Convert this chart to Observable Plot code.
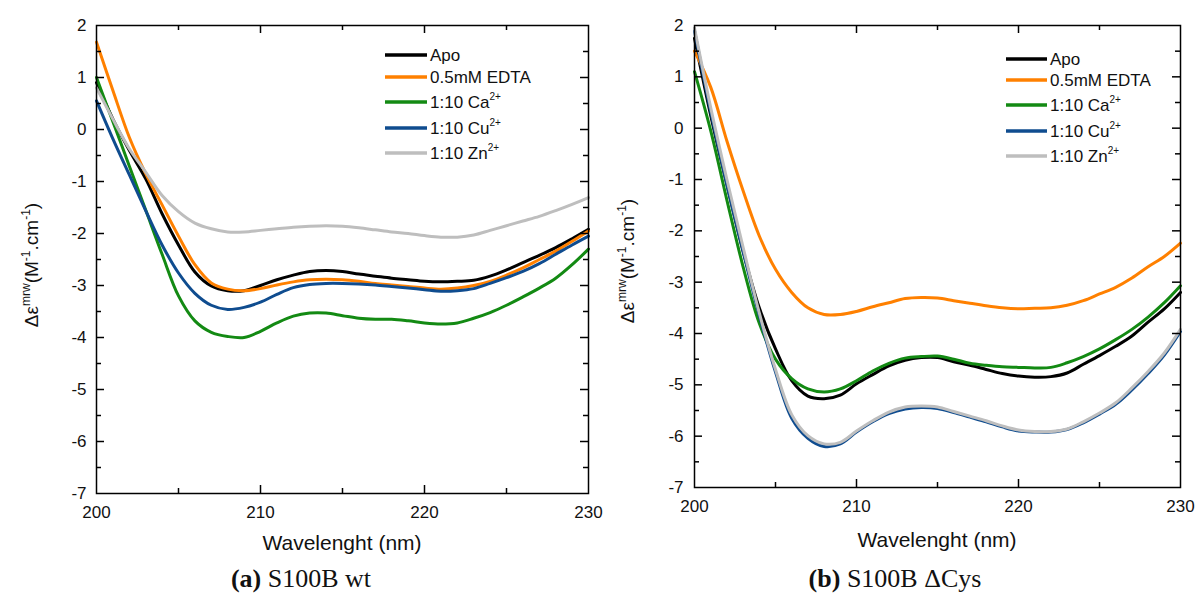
<!DOCTYPE html>
<html><head><meta charset="utf-8">
<script src="https://cdn.jsdelivr.net/npm/d3@7"></script>
<script src="https://cdn.jsdelivr.net/npm/@observablehq/plot@0.6"></script>
<style>
body{margin:0;background:#fff;}
#wrap{position:relative;width:1196px;height:595px;overflow:hidden;background:#fff;}
.panel{position:absolute;top:0;width:598px;height:560px;}
.cap{position:absolute;top:566px;font-family:"Liberation Serif","DejaVu Serif",serif;font-size:26px;line-height:26px;white-space:nowrap;transform:translateX(-50%);color:#111;}
</style></head><body>
<div id="wrap">
<div class="panel" id="pa" style="left:0"></div>
<div class="panel" id="pb" style="left:598px"></div>
<div class="cap" style="left:301px"><b>(a)</b> S100B wt</div>
<div class="cap" style="left:895px"><b>(b)</b> S100B ΔCys</div>
</div>
<script>
// ---- data ----
const wavelength = [200,201,202,203,204,205,206,207,208,209,210,211,212,213,214,215,216,217,218,219,220,221,222,223,224,225,226,227,228,229,230];
const seriesNames = ["Apo","0.5mM EDTA","1:10 Ca2+","1:10 Cu2+","1:10 Zn2+"];
const legendBase = ["Apo","0.5mM EDTA","1:10 Ca","1:10 Cu","1:10 Zn"];
const legendSup = ["","","2+","2+","2+"];
const colors = ["#000000","#FF8000","#138A13","#0F4C8F","#BEBEBE"];

// (a) S100B wt
const wtApo  = [0.9,0.2,-0.4,-0.95,-1.62,-2.22,-2.74,-3.01,-3.1,-3.1,-3.0,-2.89,-2.8,-2.73,-2.71,-2.73,-2.78,-2.82,-2.86,-2.89,-2.92,-2.93,-2.92,-2.9,-2.82,-2.7,-2.56,-2.42,-2.27,-2.1,-1.92];
const wtEDTA = [1.68,0.75,-0.15,-0.85,-1.45,-2.05,-2.6,-2.95,-3.07,-3.1,-3.06,-2.99,-2.93,-2.89,-2.88,-2.89,-2.92,-2.96,-2.99,-3.02,-3.05,-3.07,-3.05,-3.0,-2.92,-2.8,-2.66,-2.5,-2.34,-2.15,-1.95];
const wtCa   = [1.0,0.15,-0.7,-1.55,-2.4,-3.2,-3.68,-3.9,-3.98,-4.0,-3.88,-3.72,-3.59,-3.53,-3.53,-3.58,-3.63,-3.65,-3.65,-3.68,-3.72,-3.74,-3.72,-3.63,-3.52,-3.38,-3.22,-3.05,-2.86,-2.6,-2.3];
const wtCu   = [0.55,-0.18,-0.87,-1.56,-2.22,-2.76,-3.15,-3.38,-3.46,-3.42,-3.32,-3.17,-3.04,-2.98,-2.96,-2.96,-2.97,-2.99,-3.02,-3.05,-3.08,-3.11,-3.1,-3.06,-2.96,-2.85,-2.73,-2.58,-2.4,-2.22,-2.05];
const wtZn   = [0.8,0.2,-0.37,-0.82,-1.27,-1.58,-1.8,-1.91,-1.97,-1.97,-1.94,-1.91,-1.88,-1.86,-1.85,-1.86,-1.89,-1.93,-1.97,-2.0,-2.04,-2.07,-2.07,-2.03,-1.94,-1.85,-1.76,-1.67,-1.56,-1.44,-1.31];

// (b) S100B ΔCys
const dcApo  = [1.75,0.25,-1.1,-2.4,-3.5,-4.3,-4.92,-5.22,-5.27,-5.2,-4.98,-4.8,-4.63,-4.52,-4.47,-4.47,-4.55,-4.62,-4.7,-4.78,-4.83,-4.85,-4.84,-4.77,-4.6,-4.43,-4.25,-4.05,-3.78,-3.52,-3.2];
const dcEDTA = [1.5,0.8,-0.25,-1.22,-2.1,-2.75,-3.2,-3.5,-3.63,-3.63,-3.57,-3.48,-3.4,-3.32,-3.3,-3.31,-3.36,-3.41,-3.46,-3.5,-3.52,-3.51,-3.5,-3.45,-3.36,-3.23,-3.1,-2.92,-2.7,-2.5,-2.24];
const dcCa   = [1.1,-0.05,-1.4,-2.7,-3.8,-4.5,-4.88,-5.08,-5.14,-5.08,-4.92,-4.73,-4.58,-4.48,-4.45,-4.44,-4.5,-4.58,-4.62,-4.65,-4.66,-4.67,-4.66,-4.57,-4.45,-4.3,-4.12,-3.92,-3.68,-3.4,-3.07];
const dcCu   = [1.9,0.32,-1.1,-2.4,-3.65,-4.75,-5.65,-6.04,-6.2,-6.15,-5.92,-5.72,-5.56,-5.47,-5.44,-5.46,-5.54,-5.63,-5.72,-5.82,-5.9,-5.92,-5.92,-5.87,-5.74,-5.57,-5.38,-5.1,-4.78,-4.42,-3.96];
const dcZn   = [1.95,0.4,-1.0,-2.32,-3.6,-4.7,-5.58,-5.99,-6.15,-6.12,-5.9,-5.7,-5.53,-5.43,-5.41,-5.43,-5.52,-5.61,-5.7,-5.8,-5.88,-5.91,-5.91,-5.86,-5.72,-5.55,-5.35,-5.06,-4.74,-4.38,-3.92];

const xTickLabels = [200,210,220,230];
const yTickLabels = [-7,-6,-5,-4,-3,-2,-1,0,1,2];
const xMajor = [210,220];
const xMinor = [205,215,225];
const yMajor = [-6,-5,-4,-3,-2,-1,0,1];
const yMinor = [-6.5,-5.5,-4.5,-3.5,-2.5,-1.5,-0.5,0.5,1.5];

const xLabel = "Wavelenght (nm)";

function makePanel(el, arrays, m, leg, yl) {
  const W = 598, H = 560;
  const plotW = W - m.left - m.right, plotH = H - m.top - m.bottom;
  const rows = seriesNames.flatMap((s, i) => wavelength.map((w, j) => ({w, v: arrays[i][j], s})));
  const tk = {stroke: "black", strokeWidth: 1.5};
  const font = '"Liberation Sans", Arial, sans-serif';
  const svg = Plot.plot({
    width: W, height: H,
    marginLeft: m.left, marginRight: m.right, marginTop: m.top, marginBottom: m.bottom,
    style: {fontFamily: font, fontSize: "17px", color: "#111", background: "transparent", overflow: "visible"},
    x: {domain: [200, 230]},
    y: {domain: [-7, 2]},
    color: {domain: seriesNames, range: colors},
    marks: [
      Plot.axisX({ticks: xTickLabels, tickSize: 0, tickPadding: 12, fontSize: 17, tickFormat: d => String(d), label: null}),
      Plot.axisY({ticks: yTickLabels, tickSize: 0, tickPadding: m.ypad, fontSize: 17, tickFormat: d => String(d), label: null}),
      Plot.line(rows, {x: "w", y: "v", z: "s", stroke: "s", strokeWidth: 3, curve: "catmull-rom"}),
      Plot.ruleX(xMajor, {x: d => d, insetTop: plotH - 8, ...tk}),
      Plot.ruleX(xMajor, {x: d => d, insetBottom: plotH - 8, ...tk}),
      Plot.ruleX(xMinor, {x: d => d, insetTop: plotH - 5, ...tk}),
      Plot.ruleX(xMinor, {x: d => d, insetBottom: plotH - 5, ...tk}),
      Plot.ruleY(yMajor, {y: d => d, insetRight: plotW - 8, ...tk}),
      Plot.ruleY(yMajor, {y: d => d, insetLeft: plotW - 8, ...tk}),
      Plot.ruleY(yMinor, {y: d => d, insetRight: plotW - 5, ...tk}),
      Plot.ruleY(yMinor, {y: d => d, insetLeft: plotW - 5, ...tk}),
      Plot.frame({stroke: "black", strokeWidth: 1.5})
    ]
  });
  const s = d3.select(svg);
  // x label
  s.append("text").attr("x", m.left + plotW / 2).attr("y", m.xly)
    .attr("text-anchor", "middle").attr("font-family", font).attr("font-size", 21).attr("fill", "#111").text(xLabel);
  // y label
  const t = s.append("text").attr("transform", `translate(${yl.x},${yl.y}) rotate(-90)`)
    .attr("text-anchor", "middle").attr("font-family", font).attr("font-size", 19).attr("fill", "#111");
  t.append("tspan").text("Δε");
  t.append("tspan").attr("dy", -8).attr("font-size", 12).text("mrw");
  t.append("tspan").attr("dy", 8).text("(M");
  t.append("tspan").attr("dy", -8).attr("font-size", 12).text("-1");
  t.append("tspan").attr("dy", 8).text(".cm");
  t.append("tspan").attr("dy", -8).attr("font-size", 12).text("-1");
  t.append("tspan").attr("dy", 8).text(")");
  // legend
  const g = s.append("g").attr("text-anchor", "start");
  seriesNames.forEach((name, i) => {
    const y = leg.ys[i];
    g.append("line").attr("x1", leg.x1).attr("x2", leg.x2).attr("y1", y).attr("y2", y)
      .attr("stroke", colors[i]).attr("stroke-width", 3.5);
    const tx = g.append("text").attr("x", leg.x2 + 3).attr("y", y + 6).attr("text-anchor", "start")
      .attr("font-family", font).attr("font-size", 17).attr("fill", "#111");
    tx.append("tspan").text(legendBase[i]);
    if (legendSup[i]) tx.append("tspan").attr("dy", -8).attr("font-size", 10).text(legendSup[i]);
  });
  document.getElementById(el).appendChild(svg);
}

makePanel("pa", [wtApo, wtEDTA, wtCa, wtCu, wtZn],
  {left: 96, right: 10, top: 25, bottom: 67, ypad: 10, xly: 550},
  {x1: 385, x2: 427, ys: [55, 77, 102, 128, 153]},
  {x: 38, y: 265});
makePanel("pb", [dcApo, dcEDTA, dcCa, dcCu, dcZn],
  {left: 96, right: 16, top: 25, bottom: 73, ypad: 11, xly: 547},
  {x1: 408, x2: 449, ys: [59, 80, 105, 131, 156]},
  {x: 36, y: 261});
</script>
</body></html>
